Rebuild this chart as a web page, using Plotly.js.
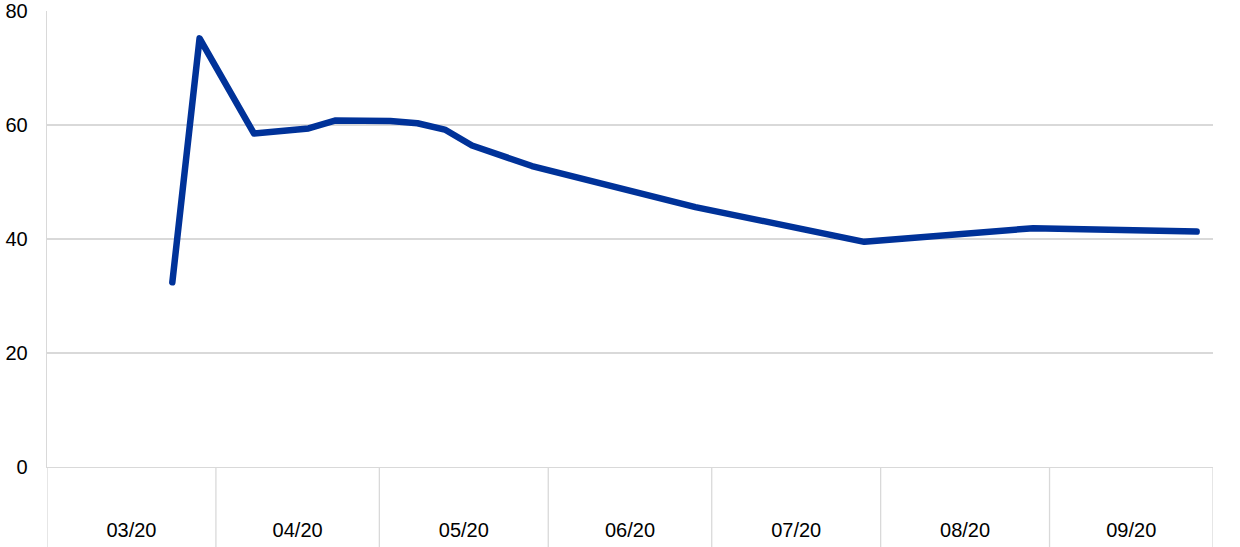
<!DOCTYPE html>
<html>
<head>
<meta charset="utf-8">
<script src="https://cdn.plot.ly/plotly-3.0.1.min.js"></script>
<style>
  html, body { margin: 0; padding: 0; background: #ffffff; }
  #chart { width: 1240px; height: 547px; }
  #chart .scatterlayer path.js-line { stroke-linecap: round !important; stroke-linejoin: round !important; }
</style>
</head>
<body>
<div id="chart"></div>
<script>
// Data
var dates = [
  '2020-03-24', '2020-03-29', '2020-04-08', '2020-04-18', '2020-04-23',
  '2020-05-03', '2020-05-08', '2020-05-13', '2020-05-18', '2020-05-29',
  '2020-06-28', '2020-07-29', '2020-08-29', '2020-09-28'
];
var values = [
  32.4, 75.2, 58.5, 59.4, 60.8,
  60.7, 60.3, 59.2, 56.4, 52.8,
  45.6, 39.5, 41.9, 41.3
];
var monthStarts = [
  '2020-03-01', '2020-04-01', '2020-05-01', '2020-06-01',
  '2020-07-01', '2020-08-01', '2020-09-01', '2020-10-01'
];
var yTicks = [0, 20, 40, 60, 80];

var gridColor = '#d9d9d9';
var lineColor = '#003299';
var fontFamily = '"Liberation Sans", Arial, sans-serif';

var trace = {
  x: dates,
  y: values,
  type: 'scatter',
  mode: 'lines',
  line: { color: lineColor, width: 6.5 },
  hoverinfo: 'skip'
};

var shapes = monthStarts.map(function (d) {
  return {
    type: 'line',
    xref: 'x', yref: 'paper',
    x0: d, x1: d,
    y0: 0, y1: -0.2,
    line: { color: gridColor, width: 1.3 },
    layer: 'below'
  };
});

var layout = {
  width: 1240,
  height: 547,
  margin: { l: 47, r: 27, t: 11, b: 80 },
  paper_bgcolor: '#ffffff',
  plot_bgcolor: '#ffffff',
  showlegend: false,
  font: { family: fontFamily, size: 20, color: '#000000' },
  xaxis: {
    type: 'date',
    range: [monthStarts[0], monthStarts[monthStarts.length - 1]],
    tick0: monthStarts[0],
    dtick: 'M1',
    tickformat: '%m/%y',
    ticklabelmode: 'period',
    ticks: '',
    ticklabelstandoff: 45,
    showgrid: false,
    zeroline: false,
    showline: true,
    linecolor: gridColor,
    linewidth: 1.3,
    tickfont: { family: fontFamily, size: 20, color: '#000000' },
    fixedrange: true
  },
  yaxis: {
    range: [0, 80],
    tickvals: yTicks,
    ticktext: yTicks.map(String),
    showgrid: true,
    gridcolor: gridColor,
    gridwidth: 1.3,
    zeroline: false,
    showline: true,
    linecolor: gridColor,
    linewidth: 1.3,
    ticks: 'outside',
    ticklen: 14,
    tickcolor: 'rgba(0,0,0,0)',
    tickfont: { family: fontFamily, size: 20, color: '#000000' },
    fixedrange: true
  },
  shapes: shapes
};

Plotly.newPlot('chart', [trace], layout, { displayModeBar: false, staticPlot: true });
</script>
</body>
</html>
